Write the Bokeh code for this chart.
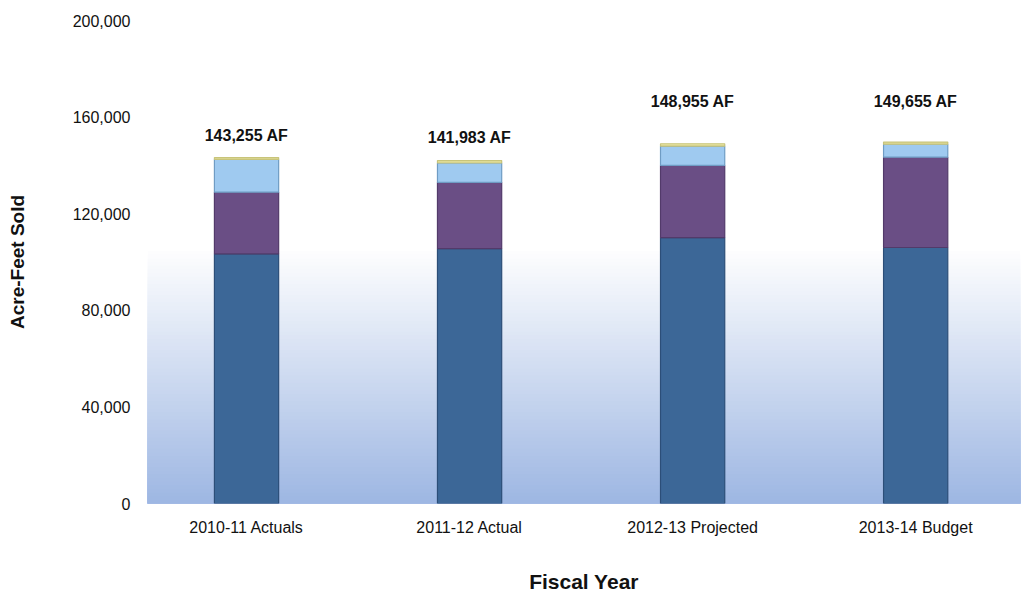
from bokeh.plotting import figure
from bokeh.models import (ColumnDataSource, Range1d, FixedTicker, NumeralTickFormatter,
                          LabelSet, BoxAnnotation)
from bokeh.core.properties import value
from bokeh.embed import file_html
from bokeh.resources import INLINE
import numpy as np

categories = ["2010-11 Actuals", "2011-12 Actual", "2012-13 Projected", "2013-14 Budget"]
tier_1 = [103400, 105500, 110100, 106000]   # dark blue
tier_2 = [25500, 27500, 29900, 37400]       # purple
tier_3 = [13600, 8000, 8000, 5400]          # light blue
tier_4 = [755, 983, 955, 855]               # yellow
y_ticks = [0, 40000, 80000, 120000, 160000, 200000]

FONT = "Liberation Sans"

x = np.arange(len(categories)) + 0.5
totals = [a + b + c + d for a, b, c, d in zip(tier_1, tier_2, tier_3, tier_4)]
src = ColumnDataSource(dict(
    x=x, t1=tier_1, t2=tier_2, t3=tier_3, t4=tier_4, total=totals,
    label=[f"{t:,} AF" for t in totals],
    dy=[22, 23, 42, 41],
))

p = figure(width=1028, height=597, output_backend="svg", toolbar_location=None,
           x_range=Range1d(0.056, 3.97), y_range=Range1d(0, 200000),
           min_border_left=147, min_border_right=8, min_border_top=20, min_border_bottom=94)
p.outline_line_color = None
p.grid.visible = False
p.background_fill_color = "white"

# plot-area gradient (white at top -> light blue at bottom), nested boxes to avoid seams
top_c = np.array([255, 255, 255])
bot_c = np.array([158, 183, 227])
n = 70
g_top = 106000
for i in range(n, 0, -1):
    f = (i - 1) / (n - 1)
    c = bot_c + (top_c - bot_c) * f
    p.add_layout(BoxAnnotation(bottom=0, top=g_top * i / n,
                               fill_color="#%02x%02x%02x" % tuple(int(v) for v in c),
                               fill_alpha=1.0, line_color=None, level="underlay"))

p.vbar_stack(["t1", "t2", "t3", "t4"], x="x", width=0.288, source=src,
             fill_color=["#3c6797", "#6a4e85", "#9fcaf0", "#e6e3a0"],
             line_color=["#2c4e78", "#523a6a", "#6f9cc4", "#c8c47a"],
             line_width=1.2)

labels = LabelSet(x="x", y="total", text="label", source=src, y_offset="dy",
                  text_align="center", text_baseline="middle",
                  text_font=value(FONT), text_font_size="16px", text_font_style="bold",
                  text_color="#111111")
p.add_layout(labels)

for ax in (p.xaxis[0], p.yaxis[0]):
    ax.axis_line_color = None
    ax.major_tick_line_color = None
    ax.minor_tick_line_color = None
    ax.major_tick_out = 0
    ax.major_tick_in = 0
    ax.major_label_text_font = FONT
    ax.major_label_text_font_size = "16px"
    ax.major_label_text_color = "#111111"
    ax.axis_label_text_font = FONT
    ax.axis_label_text_font_style = "bold"
    ax.axis_label_text_color = "#111111"

p.yaxis.ticker = FixedTicker(ticks=y_ticks)
p.yaxis.formatter = NumeralTickFormatter(format="0,0")
p.yaxis.major_label_standoff = 17
p.yaxis.axis_label = "Acre-Feet Sold"
p.yaxis.axis_label_text_font_size = "19px"
p.yaxis.axis_label_standoff = 42

p.xaxis.ticker = FixedTicker(ticks=list(x))
p.xaxis.major_label_overrides = {float(xi): c for xi, c in zip(x, categories)}
p.xaxis.major_label_standoff = 15
p.xaxis.axis_label = "Fiscal Year"
p.xaxis.axis_label_text_font_size = "21px"
p.xaxis.axis_label_standoff = 31

open("out.html", "w").write(file_html(p, INLINE))
